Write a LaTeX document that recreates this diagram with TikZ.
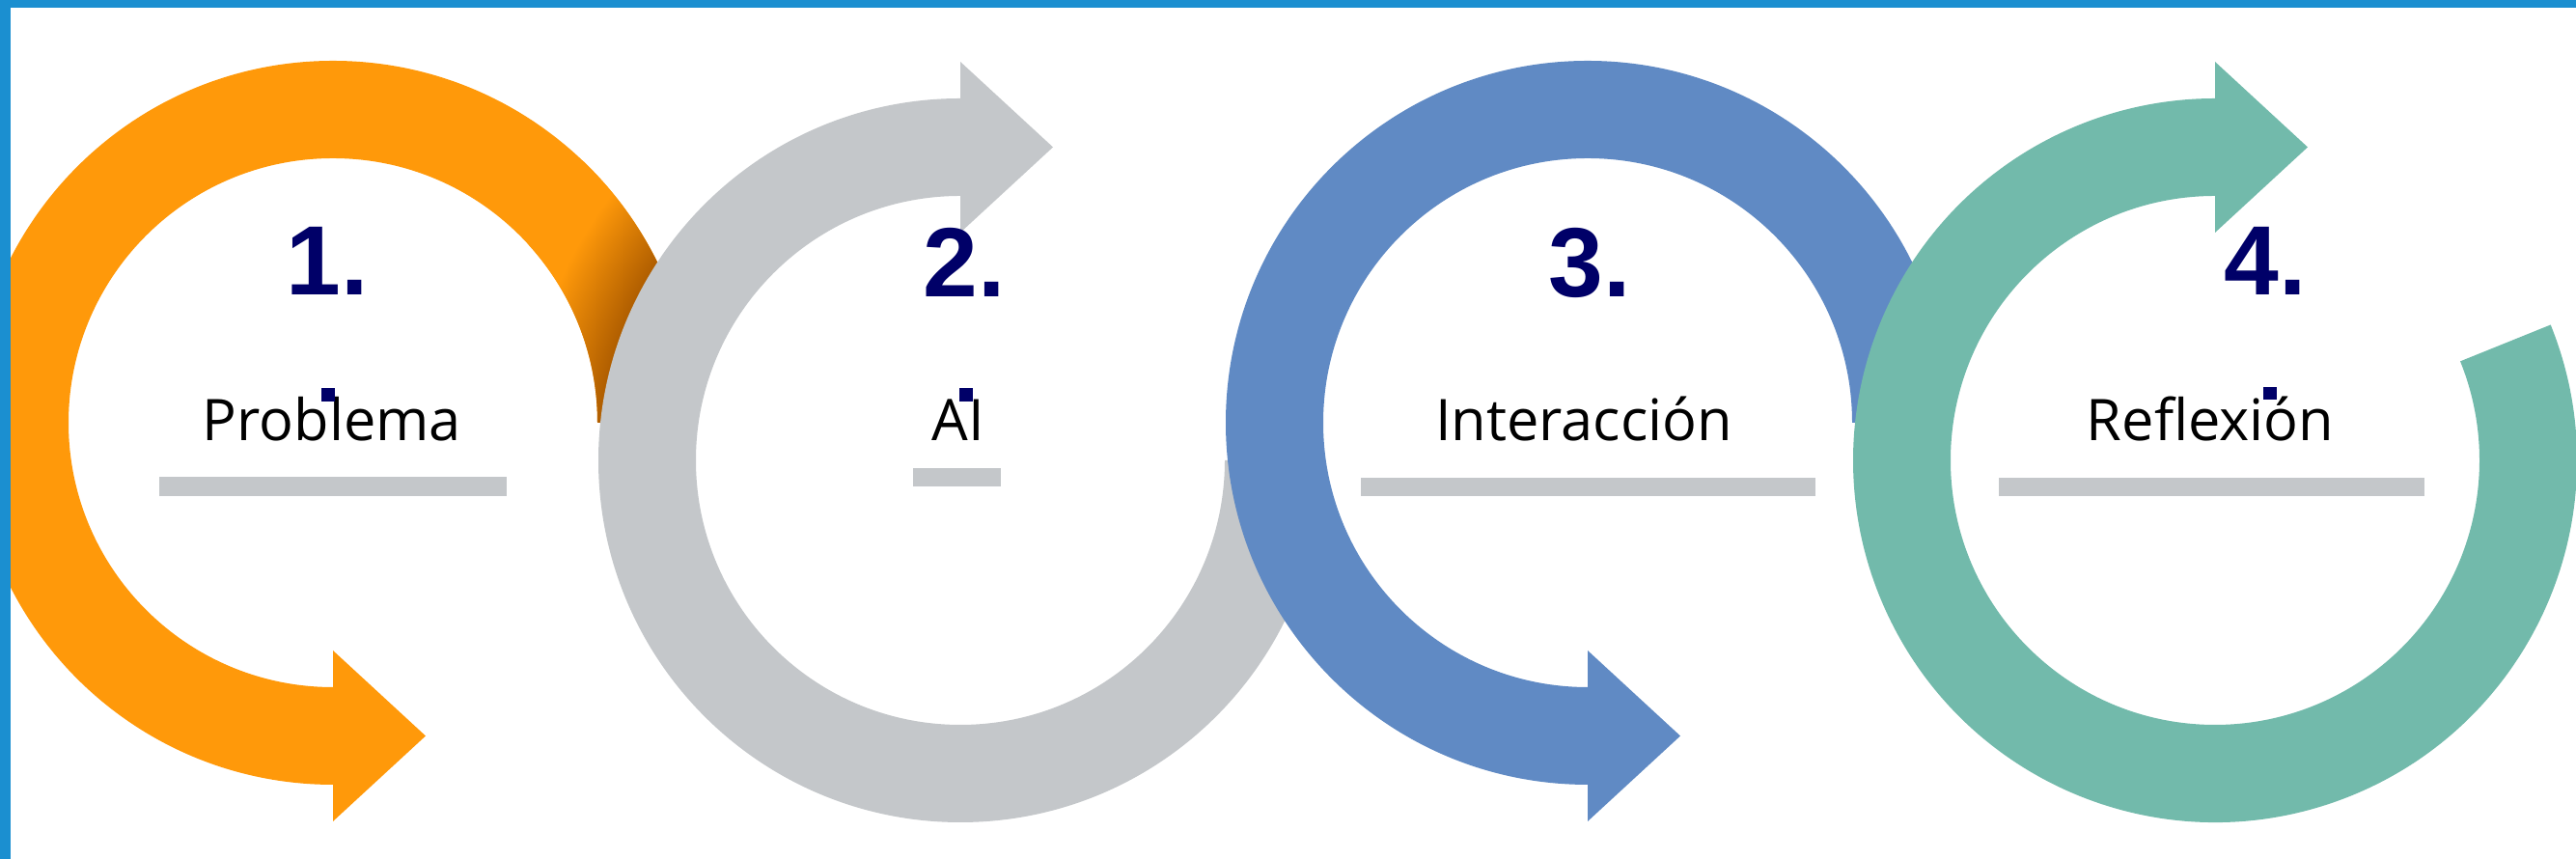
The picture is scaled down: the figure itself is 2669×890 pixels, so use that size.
\documentclass[tikz,border=0pt]{standalone}
\usepackage{fontspec}
\setmainfont{Open Sans}
\newfontfamily\numfont{Liberation Sans}
\definecolor{orangec}{RGB}{255,153,10}
\definecolor{shadowc}{RGB}{176,94,0}
\definecolor{grayc}{RGB}{196,199,202}
\definecolor{bluec}{RGB}{96,138,196}
\definecolor{greenc}{RGB}{114,186,171}
\definecolor{navyc}{RGB}{0,0,104}
\definecolor{framec}{RGB}{27,143,208}
\definecolor{barc}{RGB}{196,199,202}
\pgfdeclareradialshading{orshadow}{\pgfpoint{0bp}{0bp}}{color(0bp)=(shadowc); color(18.75bp)=(shadowc); color(22.75bp)=(orangec); color(50bp)=(orangec)}
\begin{document}
\begin{tikzpicture}[x=0.2pt,y=0.2pt,
  numtext/.style={font=\numfont\bfseries\fontsize{20.4pt}{24pt}\selectfont, text=navyc, inner sep=0pt, anchor=base},
  labtext/.style={font=\fontsize{11.9pt}{14pt}\selectfont, text=black, inner sep=0pt, anchor=base},
  barfill/.style={fill=barc},
  dotfill/.style={fill=navyc}]
\useasboundingbox (0,0) rectangle (2669,890);
\clip (0,0) rectangle (2669,890);
\fill[white] (0,0) rectangle (2669,890);

% 1: orange, arrow at bottom
\fill[orangec, shift={(345,452)}] (0:375) arc[start angle=0, end angle=270, radius=375]
  -- (0,-413) -- (96,-324.5) -- (0,-236) -- (0,-274)
  arc[start angle=270, end angle=0, radius=274] -- cycle;
\begin{scope}
  \clip[shift={(345,452)}] (0:274) -- (0:375) arc[start angle=0, end angle=80, radius=375]
    -- (80:274) arc[start angle=80, end angle=0, radius=274] -- cycle;
  \shade[shading=orshadow] (995,413) circle[radius=500];
\end{scope}

% 2: gray, arrow at top
\fill[grayc, shift={(995,413)}] (0:375) arc[start angle=360, end angle=90, radius=375]
  -- (0,413) -- (96,324.5) -- (0,236) -- (0,274)
  arc[start angle=90, end angle=360, radius=274] -- cycle;

% 3: blue, arrow at bottom
\fill[bluec, shift={(1645,452)}] (0:375) arc[start angle=0, end angle=270, radius=375]
  -- (0,-413) -- (96,-324.5) -- (0,-236) -- (0,-274)
  arc[start angle=270, end angle=0, radius=274] -- cycle;

% 4: green, arrow at top
\fill[greenc, shift={(2295,413)}] (22:375) arc[start angle=22, end angle=-270, radius=375]
  -- (0,413) -- (96,324.5) -- (0,236) -- (0,274)
  arc[start angle=90, end angle=382, radius=274] -- cycle;

% bars
\fill[barfill] (165,376) rectangle (525,396);
\fill[barfill] (946,386) rectangle (1037,405);
\fill[barfill] (1410,376) rectangle (1881,395);
\fill[barfill] (2071,376) rectangle (2512,395);

% numbers
\node[numtext] (n1) at (339,584) {1.};
\node[numtext] (n2) at (999,582) {2.};
\node[numtext] (n3) at (1647,582) {3.};
\node[numtext] (n4) at (2347,584) {4.};

% labels
\node[labtext] (l1) at (344,433) {Problema};
\node[labtext] (l2) at (993,433) {AI};
\node[labtext] (l3) at (1641,433) {Interacción};
\node[labtext] (l4) at (2290,433) {Reflexión};

% small navy squares
\fill[dotfill] (333,474) rectangle (347,488);
\fill[dotfill] (994,474) rectangle (1008,488);
\fill[dotfill] (2345,476) rectangle (2359,489);

% frame
\fill[framec] (0,0) rectangle (11,890);
\fill[framec] (0,882) rectangle (2669,890);
\end{tikzpicture}
\end{document}
